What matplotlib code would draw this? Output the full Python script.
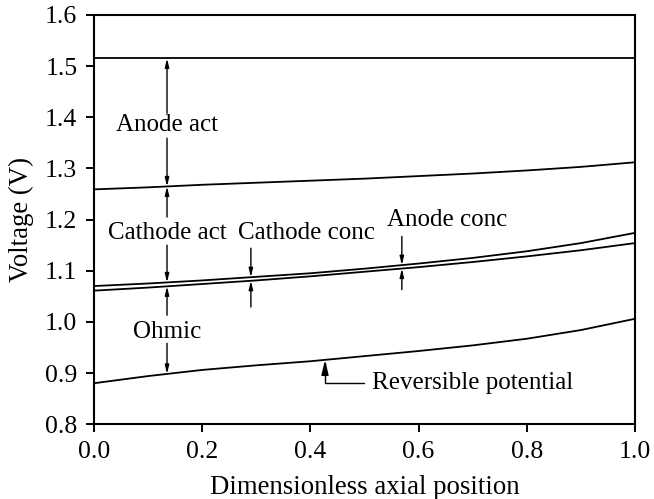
import matplotlib
matplotlib.use("Agg")
import matplotlib.pyplot as plt
import numpy as np

plt.rcParams['font.family'] = ['Liberation Serif', 'DejaVu Serif']

position = [0.0, 0.1, 0.2, 0.3, 0.4, 0.5, 0.6, 0.7, 0.8, 0.9, 1.0]
total_voltage = [1.515, 1.515, 1.515, 1.515, 1.515, 1.515, 1.515, 1.515, 1.515, 1.515, 1.515]
after_anode_act = [1.259, 1.263, 1.268, 1.272, 1.276, 1.280, 1.285, 1.290, 1.296, 1.303, 1.312]
after_cathode_act = [1.070, 1.075, 1.081, 1.088, 1.095, 1.104, 1.114, 1.125, 1.138, 1.154, 1.174]
after_conc = [1.061, 1.067, 1.074, 1.081, 1.089, 1.098, 1.107, 1.117, 1.128, 1.140, 1.154]
reversible = [0.880, 0.894, 0.906, 0.915, 0.923, 0.933, 0.943, 0.954, 0.967, 0.984, 1.006]

x_ticks = [0.0, 0.2, 0.4, 0.6, 0.8, 1.0]
y_ticks = [0.8, 0.9, 1.0, 1.1, 1.2, 1.3, 1.4, 1.5, 1.6]

fig = plt.figure(figsize=(6.54, 4.99), dpi=100)
ax = fig.add_axes([0.1437, 0.150, 0.8273, 0.820])

for s in [total_voltage, after_anode_act, after_cathode_act, after_conc, reversible]:
    ax.plot(position, s, color='black', lw=1.3)

ax.set_xlim(0, 1.0)
ax.set_ylim(0.8, 1.6)
ax.set_xticks(x_ticks)
ax.set_yticks(y_ticks)
ax.set_xticklabels([f"{v:.1f}" for v in x_ticks])
ax.set_yticklabels([f"{v:.1f}" for v in y_ticks])
ax.tick_params(axis='both', direction='out', length=6, width=1.4, labelsize=18.5)
ax.tick_params(axis='y', pad=6)
ax.tick_params(axis='x', pad=6)
for sp in ax.spines.values():
    sp.set_linewidth(1.5)
ax.set_xlabel('Dimensionless axial position', fontsize=19.3, labelpad=9)
ax.set_ylabel('Voltage (V)', fontsize=19.3, labelpad=8)

def val(series, x):
    return float(np.interp(x, position, series))

def arrow(x, y_from, y_to):
    ax.annotate('', xy=(x, y_to), xytext=(x, y_from),
                arrowprops=dict(arrowstyle='-|>,head_length=0.5,head_width=0.12',
                                color='black', lw=1.0, shrinkA=0, shrinkB=0))

fs = 18
xa = 0.135
ax.text(xa, 1.385, 'Anode act', ha='center', va='center', fontsize=fs)
arrow(xa, 1.408, val(total_voltage, xa))
arrow(xa, 1.359, val(after_anode_act, xa))
ax.text(xa, 1.173, 'Cathode act', ha='center', va='center', fontsize=fs)
arrow(xa, 1.205, val(after_anode_act, xa))
arrow(xa, 1.150, val(after_cathode_act, xa))
ax.text(xa, 0.980, 'Ohmic', ha='center', va='center', fontsize=fs)
arrow(xa, 1.013, val(after_conc, xa))
arrow(xa, 0.958, val(reversible, xa))

xc = 0.29
ax.text(0.392, 1.173, 'Cathode conc', ha='center', va='center', fontsize=fs)
arrow(xc, 1.144, val(after_cathode_act, xc))
arrow(xc, 1.029, val(after_conc, xc))

xn = 0.569
ax.text(0.653, 1.199, 'Anode conc', ha='center', va='center', fontsize=fs)
arrow(xn, 1.167, val(after_cathode_act, xn))
arrow(xn, 1.063, val(after_conc, xn))

xr = 0.427
ax.annotate('Reversible potential', xy=(xr, val(reversible, xr)), xytext=(0.514, 0.880),
            ha='left', va='center', fontsize=fs,
            arrowprops=dict(arrowstyle='-|>,head_length=0.5,head_width=0.12', color='black', lw=1.0,
                            shrinkA=4, shrinkB=0,
                            connectionstyle='angle,angleA=0,angleB=90,rad=0'))

fig.savefig('out.png', dpi=100)
